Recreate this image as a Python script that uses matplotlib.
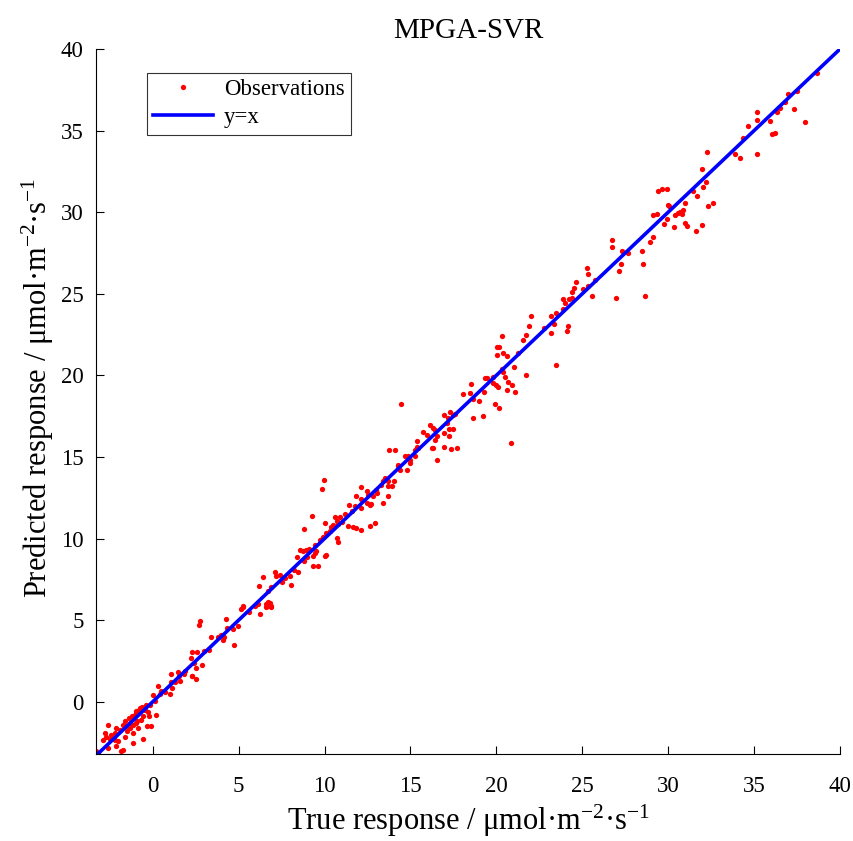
import numpy as np
import matplotlib
matplotlib.use('Agg')
import matplotlib.pyplot as plt

plt.rcParams['font.family'] = ['Liberation Serif', 'DejaVu Serif']
plt.rcParams['mathtext.fontset'] = 'custom'
plt.rcParams['mathtext.rm'] = 'Liberation Serif'
plt.rcParams['mathtext.it'] = 'Liberation Serif:italic'

# (true, predicted) pairs, grouped along the diagonal
low_pts = [(-3.28,-3.04),(-3.18,-3.14),(-2.9,-2.33),(-2.8,-1.92),(-2.7,-2.13),(-2.6,-1.41),(-2.41,-2.02),
           (-2.21,-2.33),(-2.11,-1.61),(-2.11,-2.74),(-2.6,-2.84),(-1.73,-2.94),(-1.82,-3.04),(-1.73,-1.41),
           (-1.53,-1.51),(-1.34,-1.31),(-1.63,-2.13),(-1.15,-1.41),(-1.15,-1.92),(-1.15,-2.53),(-0.95,-1.31),
           (-0.86,-1.61),(-0.56,-2.29),(-0.33,-1.47),(-0.08,-1.51),(-1.05,-0.8),(-0.95,-0.59),(-0.76,-0.39),
           (-0.56,-0.86),(-0.47,-0.49),(-0.17,-0.18),(0.12,0.02),(0.21,-0.8),(0.02,0.43),(0.31,0.98),(0.51,0.63),
           (0.99,0.47),(1.15,0.84),(1.05,1.24),(1.09,1.72),(1.47,1.8),(1.53,1.59),(1.61,1.29),
           (-2.5,-2.3),(-2.2,-1.9),(-1.9,-1.7),(-1.6,-1.2),(-1.4,-1.0),(-1.2,-0.9),(-1.0,-0.7),(-0.8,-0.5),
           (-0.6,-0.3),(-0.4,-0.2),(-0.3,-0.6),(-1.3,-1.6),(-0.7,-1.1),(-2.0,-2.4),(-0.2,-0.9),(0.4,0.5),
           (0.7,0.6),(-1.5,-1.8),(-0.9,-1.2)]
mid1_pts = [(1.86,1.86),(2.21,2.68),(2.31,3.05),(2.58,3.05),(2.41,2.37),(2.84,2.25),(2.54,2.06),(2.31,1.55),
            (2.5,1.39),(2.27,1.59),(2.74,4.98),(2.68,4.72),(3.42,3.96),(3.8,3.96),(4.1,3.76),(4.15,3.96),
            (4.25,5.07),(4.33,4.5),(4.68,4.45),(4.97,4.66),(4.74,3.49),(5.25,5.8),(5.16,5.7),(6.23,5.4),
            (6.7,6.1),(6.9,5.8),(6.6,5.8),(5.26,5.88),(5.94,5.84),(6.13,6.0),(6.42,7.62),(6.19,7.11),
            (6.91,7.03),(6.72,6.76),(6.81,6.08),(6.62,6.0),(6.72,5.84),(6.91,5.84),
            (3.0,3.1),(3.3,3.2),(5.6,5.5),(4.0,4.1),(1.3,1.2),(1.8,1.7)]
mid2_pts = [(7.1,7.95),(7.2,7.68),(7.4,7.78),(7.55,7.35),(7.98,7.72),(8.07,7.17),(8.46,7.95),(8.79,8.6),
            (8.37,8.9),(8.56,9.31),(8.75,9.21),(8.95,9.27),(9.1,9.36),(9.43,9.62),(9.73,9.93),(9.43,9.11),
            (9.34,8.95),(9.53,9.21),(9.34,8.35),(9.63,8.29),(10.1,9.0),(10.0,8.95),(8.79,10.6),(9.28,11.4),
            (9.96,13.56),(9.86,13.05),(10.02,10.95),(10.4,10.7),(10.3,10.44),(10.08,10.34),(9.92,10.09),
            (10.7,10.03),(10.8,9.82),(10.5,10.85),(10.8,10.9),(10.7,11.05),(10.6,11.3),(10.9,11.35),
            (11.18,11.52),(11.43,12.07),(11.76,11.97),(11.57,11.66),(12.15,11.87),(12.45,12.17),(12.64,12.07),
            (11.37,10.78),(11.66,10.7),(11.86,10.64),(12.15,10.5),(12.64,10.78),(12.95,10.95),(12.1,13.15),
            (12.45,12.9),(11.86,12.6),(12.15,12.4),(12.54,12.7),(12.83,12.58),(13.03,12.8),(12.7,12.1),
            (13.38,12.2),(13.67,12.58),(13.38,13.5),(13.5,13.7),(13.3,13.3),(13.7,13.5),(13.9,13.2),
            (14.05,13.5),(13.7,13.2),(14.3,14.5),(13.77,15.4),(14.1,15.4),
            (7.7,7.6),(8.2,8.1),(9.0,8.9),(11.0,11.0),(13.0,13.0)]
mid3_pts = [(14.68,15.03),(14.87,15.07),(14.97,14.83),(15.26,15.07),(14.29,14.46),(14.78,14.22),(14.39,14.22),
            (14.97,14.63),(15.36,15.64),(15.26,15.44),(15.45,15.54),(14.46,18.24),(15.36,15.99),(15.74,16.56),
            (15.94,16.36),(16.13,16.97),(16.33,16.77),(16.42,16.67),(16.52,16.26),(16.42,16.05),(16.33,15.54),
            (16.23,15.54),(16.95,15.64),(17.34,15.48),(17.69,15.54),(16.52,14.83),(16.97,17.59),(17.3,17.73),
            (17.59,17.65),(17.49,17.59),(17.2,17.38),(17.1,17.08),(17.26,16.71),(17.49,16.71),(16.95,16.5),
            (17.24,16.3),(18.07,18.85),(18.46,18.95),(18.52,19.49),(18.65,18.54),(18.99,18.46),(19.3,18.97),
            (18.65,17.38),(19.24,17.52),(19.34,19.83),(19.43,19.83),(19.82,19.93),(20.0,19.42),(19.78,19.53),
            (19.9,18.26),(20.15,18.03),(20.15,21.77),(20.05,21.26)]
mid4_pts = [(20.31,22.39),(20.05,21.71),(20.36,21.36),(20.6,21.2),(21.27,21.36),(21.53,22.14),(21.72,22.49),
            (21.92,23.04),(22.0,23.61),(22.79,22.89),(23.2,22.58),(23.35,23.15),(23.2,23.65),(23.5,23.8),
            (23.89,24.05),(24.19,23.04),(24.13,22.75),(23.89,24.68),(23.99,24.41),(24.24,24.66),(24.38,24.72),
            (24.38,25.12),(24.54,25.38),(24.64,25.75),(25.06,25.28),(25.35,25.49),(25.54,24.88),(25.73,25.86),
            (25.26,26.57),(25.35,26.2),(26.72,28.3),(26.75,27.84),(27.3,27.63),(27.68,27.53),(27.23,26.84),
            (27.14,26.41),(26.95,24.77),(28.46,27.65),(28.56,26.82),(28.66,24.88),(28.95,28.15),(23.5,20.65),
            (20.85,15.87),(21.7,20.0),(21.0,20.5),(20.7,19.6),(21.1,19.0),(20.4,20.2),(20.3,20.4),(20.5,19.9),
            (20.9,19.4),(20.6,19.1),(20.1,19.3)]
high_pts = [(29.14,28.47),(29.14,29.84),(29.33,29.9),(29.92,29.59),(29.76,29.29),(30.34,29.08),(30.98,29.33),
            (31.11,29.18),(31.95,29.23),(31.62,28.86),(29.63,31.41),(29.43,31.31),(29.92,31.43),(30.07,30.35),
            (30.01,30.45),(30.4,29.84),(30.59,29.94),(30.69,30.04),(30.79,29.9),(30.84,30.15),(30.98,30.56),
            (31.43,31.31),(31.66,31.0),(32.01,31.52),(32.2,31.82),(31.99,32.66),(32.28,33.66),(32.6,30.56),
            (32.34,30.41),(33.9,33.56),(34.19,33.31),(34.38,34.53),(34.63,35.29),(35.19,35.62),(35.19,36.17),
            (35.19,33.58),(35.94,35.6),(36.03,34.78),(36.23,34.88),(36.32,36.11),(36.52,36.37),(36.81,36.78),
            (37.0,37.25),(37.49,37.4),(37.35,36.3),(37.94,35.5),(38.69,38.52)]

all_pts = np.array(low_pts + mid1_pts + mid2_pts + mid3_pts + mid4_pts + high_pts)
true_resp = all_pts[:, 0]
pred_resp = all_pts[:, 1]

ax_min = -3.3
ax_max = 40
ticks = [0, 5, 10, 15, 20, 25, 30, 35, 40]

fig = plt.figure(figsize=(8.54, 8.41), dpi=100)
ax = fig.add_axes([96/854, 87/841, 744/854, 705/841])

ax.plot(true_resp, pred_resp, 'o', color='red', ms=3.8, mec='none', label='Observations')
ax.plot([ax_min, ax_max], [ax_min, ax_max], color='blue', lw=2.6, label='y=x')

ax.set_xlim(ax_min, ax_max)
ax.set_ylim(-3.2, ax_max)
ax.set_xticks(ticks)
ax.set_yticks(ticks)
ax.tick_params(direction='in', length=6, width=0.8, labelsize=16.5)
ax.tick_params(axis='x', pad=16)
ax.tick_params(axis='y', pad=9)
for s in ['top', 'right']:
    ax.spines[s].set_visible(False)

ax.set_title('MPGA-SVR', fontsize=21, pad=8)
ax.set_xlabel('True response / μmol·m$^{-2}$·s$^{-1}$', fontsize=22, labelpad=4)
ax.set_ylabel('Predicted response / μmol·m$^{-2}$·s$^{-1}$', fontsize=22)
ax.yaxis.set_label_coords(-0.054, 0.52)

leg = ax.legend(loc='upper left', bbox_to_anchor=(0.068, 0.966), fontsize=16.5, frameon=True,
                fancybox=False, edgecolor='black', borderpad=0.28, handlelength=2.6,
                handletextpad=0.5, labelspacing=0.3, borderaxespad=0)
leg.get_frame().set_linewidth(0.8)

fig.savefig('out.png', dpi=100)
